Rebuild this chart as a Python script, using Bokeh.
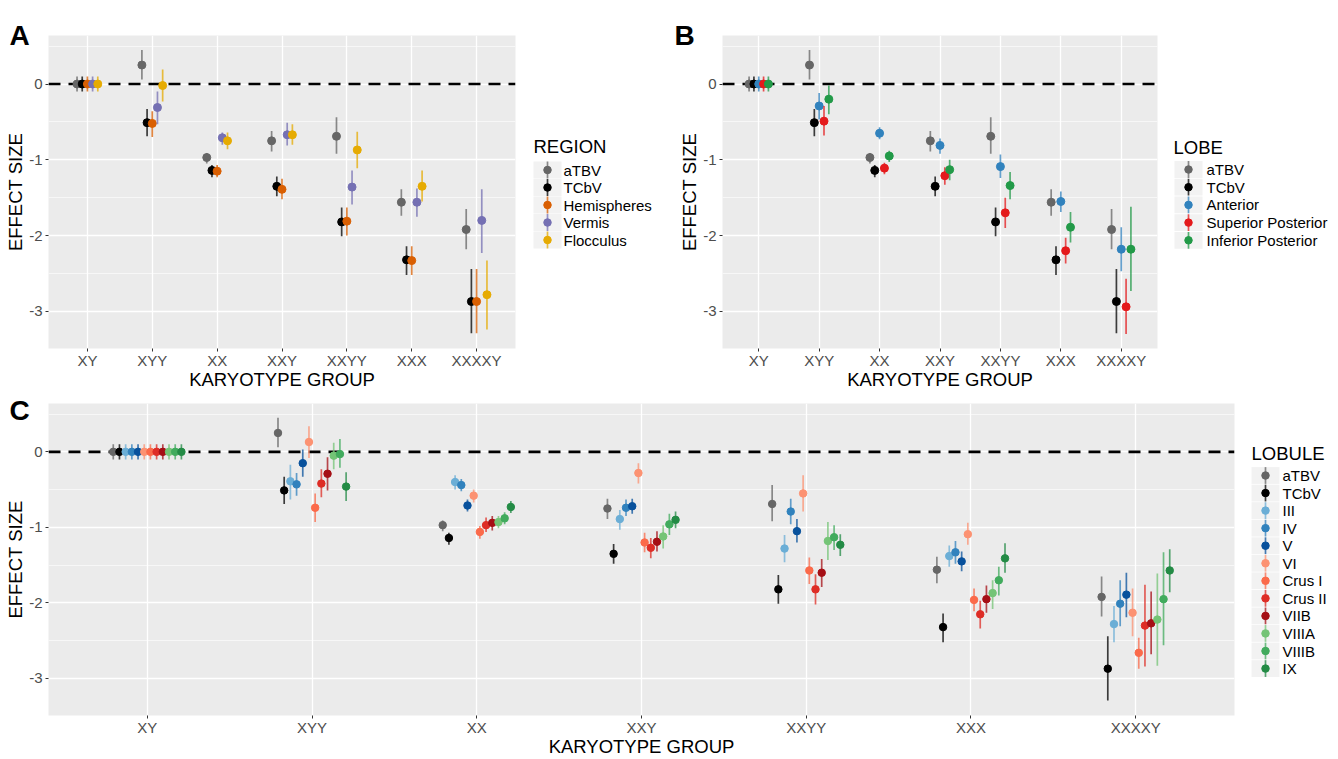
import numpy as np
from bokeh.plotting import figure
from bokeh.models import Range1d, FixedTicker, Span, GridBox
from bokeh.layouts import row, column
from bokeh.core.properties import value
from bokeh.embed import file_html
from bokeh.resources import INLINE

# ---------------- data ----------------
groups = ["XY", "XYY", "XX", "XXY", "XXYY", "XXX", "XXXXY"]

aTBV_mean = [0, 0.25, -0.97, -0.75, -0.69, -1.56, -1.92]
aTBV_lo = [-0.1, 0.06, -1.05, -0.89, -0.92, -1.74, -2.18]
aTBV_hi = [0.1, 0.45, -0.91, -0.62, -0.44, -1.39, -1.65]

TCbV_mean = [0, -0.51, -1.14, -1.35, -1.82, -2.32, -2.87]
TCbV_lo = [-0.1, -0.69, -1.23, -1.48, -2.01, -2.52, -3.29]
TCbV_hi = [0.1, -0.33, -1.07, -1.22, -1.63, -2.14, -2.44]

# Panel A: region
Hemispheres_mean = [0, -0.52, -1.15, -1.39, -1.81, -2.33, -2.87]
Hemispheres_lo = [-0.1, -0.70, -1.23, -1.52, -2.00, -2.52, -3.29]
Hemispheres_hi = [0.1, -0.36, -1.07, -1.25, -1.63, -2.14, -2.44]
Vermis_mean = [0, -0.31, -0.71, -0.67, -1.36, -1.56, -1.80]
Vermis_lo = [-0.1, -0.53, -0.80, -0.81, -1.59, -1.75, -2.23]
Vermis_hi = [0.1, -0.10, -0.64, -0.51, -1.14, -1.38, -1.39]
Flocculus_mean = [0, -0.02, -0.75, -0.67, -0.87, -1.35, -2.78]
Flocculus_lo = [-0.1, -0.23, -0.86, -0.80, -1.11, -1.55, -3.24]
Flocculus_hi = [0.1, 0.19, -0.64, -0.53, -0.63, -1.14, -2.33]

# Panel B: lobe
Anterior_mean = [0, -0.29, -0.65, -0.81, -1.09, -1.55, -2.18]
Anterior_lo = [-0.1, -0.47, -0.73, -0.92, -1.24, -1.69, -2.47]
Anterior_hi = [0.1, -0.12, -0.57, -0.72, -0.93, -1.42, -1.89]
SupPost_mean = [0, -0.49, -1.11, -1.21, -1.70, -2.20, -2.94]
SupPost_lo = [-0.1, -0.68, -1.19, -1.33, -1.90, -2.37, -3.30]
SupPost_hi = [0.1, -0.29, -1.04, -1.10, -1.50, -2.03, -2.57]
InfPost_mean = [0, -0.20, -0.95, -1.13, -1.34, -1.89, -2.18]
InfPost_lo = [-0.1, -0.40, -1.03, -1.27, -1.52, -2.09, -2.73]
InfPost_hi = [0.1, -0.02, -0.88, -1.00, -1.16, -1.69, -1.62]

# Panel C: lobule
III_mean = [0, -0.39, -0.40, -0.89, -1.28, -1.38, -2.28]
III_lo = [-0.1, -0.63, -0.50, -1.03, -1.46, -1.52, -2.52]
III_hi = [0.1, -0.17, -0.31, -0.77, -1.10, -1.24, -2.04]
IV_mean = [0, -0.43, -0.44, -0.74, -0.79, -1.33, -2.01]
IV_lo = [-0.1, -0.58, -0.52, -0.85, -0.96, -1.48, -2.31]
IV_hi = [0.1, -0.28, -0.36, -0.63, -0.62, -1.18, -1.70]
V_mean = [0, -0.15, -0.71, -0.72, -1.05, -1.45, -1.89]
V_lo = [-0.1, -0.33, -0.79, -0.82, -1.20, -1.58, -2.19]
V_hi = [0.1, 0.03, -0.63, -0.62, -0.89, -1.32, -1.60]
VI_mean = [0, 0.13, -0.58, -0.28, -0.55, -1.09, -2.13]
VI_lo = [-0.1, -0.08, -0.67, -0.42, -0.79, -1.23, -2.44]
VI_hi = [0.1, 0.34, -0.50, -0.15, -0.31, -0.94, -1.81]
CrusI_mean = [0, -0.74, -1.06, -1.20, -1.57, -1.96, -2.66]
CrusI_lo = [-0.1, -0.93, -1.15, -1.33, -1.75, -2.11, -2.87]
CrusI_hi = [0.1, -0.55, -0.98, -1.07, -1.40, -1.81, -2.46]
CrusII_mean = [0, -0.42, -0.97, -1.27, -1.82, -2.15, -2.30]
CrusII_lo = [-0.1, -0.60, -1.06, -1.41, -2.02, -2.34, -2.84]
CrusII_hi = [0.1, -0.23, -0.87, -1.14, -1.62, -1.97, -1.76]
VIIB_mean = [0, -0.29, -0.94, -1.19, -1.60, -1.95, -2.27]
VIIB_lo = [-0.1, -0.51, -1.04, -1.32, -1.79, -2.13, -2.68]
VIIB_hi = [0.1, -0.07, -0.85, -1.05, -1.42, -1.77, -1.85]
VIIIA_mean = [0, -0.05, -0.93, -1.12, -1.18, -1.87, -2.22]
VIIIA_lo = [-0.1, -0.23, -1.01, -1.28, -1.43, -2.08, -2.83]
VIIIA_hi = [0.1, 0.12, -0.85, -0.97, -0.93, -1.70, -1.61]
VIIIB_mean = [0, -0.03, -0.88, -0.96, -1.13, -1.70, -1.95]
VIIIB_lo = [-0.1, -0.21, -0.96, -1.10, -1.30, -1.90, -2.56]
VIIIB_hi = [0.1, 0.17, -0.80, -0.82, -0.97, -1.52, -1.33]
IX_mean = [0, -0.46, -0.73, -0.90, -1.23, -1.41, -1.57]
IX_lo = [-0.1, -0.65, -0.81, -1.01, -1.38, -1.60, -1.86]
IX_hi = [0.1, -0.27, -0.65, -0.79, -1.09, -1.21, -1.29]

region_names = ["aTBV", "TCbV", "Hemispheres", "Vermis", "Flocculus"]
region_colors = ["#666666", "#000000", "#D95F02", "#7570B3", "#E6AB02"]
region_data = [(aTBV_mean, aTBV_lo, aTBV_hi), (TCbV_mean, TCbV_lo, TCbV_hi),
               (Hemispheres_mean, Hemispheres_lo, Hemispheres_hi),
               (Vermis_mean, Vermis_lo, Vermis_hi),
               (Flocculus_mean, Flocculus_lo, Flocculus_hi)]

lobe_names = ["aTBV", "TCbV", "Anterior", "Superior Posterior", "Inferior Posterior"]
lobe_colors = ["#666666", "#000000", "#3182BD", "#E41A1C", "#229A48"]
lobe_data = [(aTBV_mean, aTBV_lo, aTBV_hi), (TCbV_mean, TCbV_lo, TCbV_hi),
             (Anterior_mean, Anterior_lo, Anterior_hi),
             (SupPost_mean, SupPost_lo, SupPost_hi),
             (InfPost_mean, InfPost_lo, InfPost_hi)]

lobule_names = ["aTBV", "TCbV", "III", "IV", "V", "VI", "Crus I", "Crus II",
                "VIIB", "VIIIA", "VIIIB", "IX"]
lobule_colors = ["#666666", "#000000", "#6BAED6", "#3182BD", "#08519C", "#FC9272",
                 "#FB6A4A", "#DE2D26", "#A50F15", "#74C476", "#41AB5D", "#238B45"]
lobule_data = [(aTBV_mean, aTBV_lo, aTBV_hi), (TCbV_mean, TCbV_lo, TCbV_hi),
               (III_mean, III_lo, III_hi), (IV_mean, IV_lo, IV_hi),
               (V_mean, V_lo, V_hi), (VI_mean, VI_lo, VI_hi),
               (CrusI_mean, CrusI_lo, CrusI_hi), (CrusII_mean, CrusII_lo, CrusII_hi),
               (VIIB_mean, VIIB_lo, VIIB_hi), (VIIIA_mean, VIIIA_lo, VIIIA_hi),
               (VIIIB_mean, VIIIB_lo, VIIIB_hi), (IX_mean, IX_lo, IX_hi)]

panel_letters = ["A", "B", "C"]

FONT = value("Liberation Sans")
Y_TICKS = [-3, -2, -1, 0]
Y_MINOR = [-3.5, -2.5, -1.5, -0.5, 0.5]
Y_LABELS = {-3: "-3", -2: "-2", -1: "-1", 0: "0"}

W, H = 1338, 759


def make_panel(width, height, bl, br, bt, bb, names, colors, data, step, pt_size):
    n_groups = len(groups)
    p = figure(width=width, height=height,
               x_range=Range1d(0.4, n_groups + 0.6), y_range=Range1d(-3.49, 0.64),
               toolbar_location=None, output_backend="svg",
               min_border_left=bl, min_border_right=br, min_border_top=bt,
               min_border_bottom=bb,
               background_fill_color="#EBEBEB", border_fill_color="white",
               outline_line_color=None,
               x_axis_label="KARYOTYPE GROUP", y_axis_label="EFFECT SIZE")
    xt = list(range(1, n_groups + 1))
    p.xaxis.ticker = FixedTicker(ticks=xt)
    p.xaxis.major_label_overrides = {i + 1: g for i, g in enumerate(groups)}
    p.yaxis.ticker = FixedTicker(ticks=Y_TICKS, minor_ticks=Y_MINOR)
    p.yaxis.major_label_overrides = Y_LABELS
    p.xgrid.ticker = FixedTicker(ticks=xt)
    p.ygrid.ticker = FixedTicker(ticks=Y_TICKS, minor_ticks=Y_MINOR)
    p.grid.grid_line_color = "white"
    p.grid.grid_line_width = 1.3
    p.ygrid.minor_grid_line_color = "white"
    p.ygrid.minor_grid_line_width = 0.6
    p.axis.axis_line_color = None
    p.axis.major_tick_line_color = "#333333"
    p.axis.major_tick_out = 3
    p.axis.major_tick_in = 0
    p.axis.minor_tick_line_color = None
    p.axis.major_label_text_font = "Liberation Sans"
    p.axis.major_label_text_font_size = "15px"
    p.axis.major_label_text_color = "#4D4D4D"
    p.axis.axis_label_text_font = "Liberation Sans"
    p.axis.axis_label_text_font_size = "18.5px"
    p.axis.axis_label_text_font_style = "normal"
    p.axis.axis_label_text_color = "black"
    p.yaxis.major_label_standoff = 2
    p.yaxis.axis_label_standoff = 0
    p.xaxis.major_label_standoff = 0
    p.xaxis.axis_label_standoff = -3

    p.add_layout(Span(location=0, dimension="width", line_color="black",
                      line_width=2.6, line_dash="12 8", level="underlay"))

    n = len(names)
    base = np.arange(1, n_groups + 1, dtype=float)
    for i, (nm, col, (m, lo, hi)) in enumerate(zip(names, colors, data)):
        xs = base + (i - (n - 1) / 2.0) * step
        p.segment(x0=xs, y0=lo, x1=xs, y1=hi, line_color=col, line_width=1.7,
                  line_alpha=0.75)
        p.scatter(x=xs, y=m, size=pt_size, fill_color=col, line_color=col)
    return p


def draw_legend(ov, title, names, colors, title_x, title_y, key_cx, label_x,
                row0, rstep):
    ys = np.array([row0 + i * rstep for i in range(len(names))])
    kx = np.full(len(names), key_cx, dtype=float)
    ov.rect(x=kx, y=ys, width=28, height=16.8, fill_color="#F2F2F2", line_color=None)
    ov.segment(x0=kx, y0=ys - 8.4, x1=kx, y1=ys + 8.4, line_color=colors,
               line_width=1.7, line_alpha=0.75)
    ov.scatter(x=kx, y=ys, size=7.5, fill_color=colors, line_color=colors)
    ov.text(x=np.full(len(names), label_x, dtype=float), y=ys, text=names,
            text_baseline="middle", text_align="left", text_font=FONT,
            text_font_size="15px", text_color="black")
    ov.text(x=[title_x], y=[title_y], text=[title], text_baseline="middle",
            text_align="left", text_font=FONT, text_font_size="18.5px",
            text_color="black")


H1 = 35 + 315 + 42
H2 = H - H1

pA = make_panel(665, H1, 48, 150, 35, 42, region_names, region_colors, region_data,
                0.08, 8)
pB = make_panel(673, H1, 57, 181, 35, 42, lobe_names, lobe_colors, lobe_data,
                0.08, 8)
pC = make_panel(W, H2, 48, 104, 11, 42, lobule_names, lobule_colors, lobule_data,
                0.0376, 7.5)

main = column(row(pA, pB), pC)

# transparent overlay in page pixel coordinates: panel letters and legends
ov = figure(width=W, height=H, x_range=Range1d(0, W), y_range=Range1d(H, 0),
            toolbar_location=None, output_backend="svg",
            x_axis_type=None, y_axis_type=None, min_border=0,
            outline_line_color=None, background_fill_color=None,
            border_fill_color=None)
ov.text(x=[9, 674, 9], y=[35, 35, 410], text=panel_letters,
        text_baseline="alphabetic", text_align="left", text_font=FONT,
        text_font_size="28px", text_font_style="bold", text_color="black")
draw_legend(ov, "REGION", region_names, region_colors, 533, 146, 547, 563, 169.5, 17.5)
draw_legend(ov, "LOBE", lobe_names, lobe_colors, 1173, 147, 1188, 1206, 169, 17.7)
draw_legend(ov, "LOBULE", lobule_names, lobule_colors, 1251, 453, 1265, 1282, 475, 17.55)

grid = GridBox(children=[(main, 0, 0), (ov, 0, 0)])
open("out.html", "w").write(file_html(grid, INLINE))
